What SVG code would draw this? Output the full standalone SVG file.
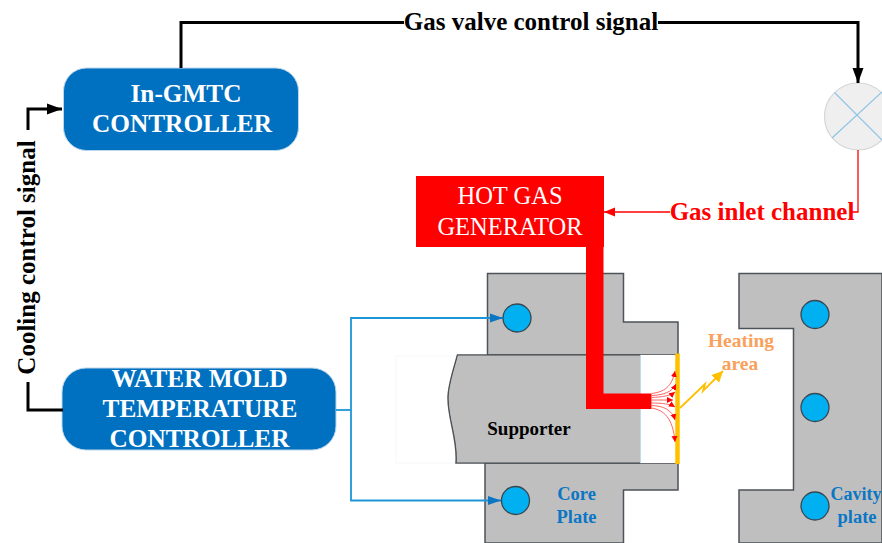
<svg xmlns="http://www.w3.org/2000/svg" width="882" height="543" viewBox="0 0 882 543">
<defs>
<marker id="ab" markerUnits="userSpaceOnUse" markerWidth="16" markerHeight="12" refX="15" refY="6" orient="auto"><path d="M0,0.500 L15,6 L0,11.500 Z" fill="#000"/></marker>
<marker id="ar" markerUnits="userSpaceOnUse" markerWidth="12" markerHeight="10" refX="11" refY="5" orient="auto"><path d="M0,0.500 L11,5 L0,9.500 Z" fill="#f00"/></marker>
<marker id="au" markerUnits="userSpaceOnUse" markerWidth="14" markerHeight="10" refX="13" refY="5" orient="auto"><path d="M0,0.500 L13,5 L0,9.500 Z" fill="#0b76c4"/></marker>
<marker id="ay" markerUnits="userSpaceOnUse" markerWidth="12" markerHeight="12" refX="11" refY="6" orient="auto"><path d="M0,0.500 L11,6 L0,11.500 Z" fill="#ffc000"/></marker>
<marker id="af" markerUnits="userSpaceOnUse" markerWidth="7" markerHeight="7" refX="6" refY="3" orient="auto"><path d="M0,0 L6,3 L0,6 Z" fill="#f00"/></marker>
</defs>
<style>
text{font-family:"Liberation Serif","Times New Roman",serif;font-weight:bold;text-anchor:middle}
.box{fill:#0070c0;stroke:#bcd6ec;stroke-width:1}
.w{fill:#fff;font-size:25.300px}
.s{fill:#bfbfbf;stroke:#4d5358;stroke-width:1.500}
.c{fill:#00b0f0;stroke:#3a4650;stroke-width:1.300}
.k{fill:none;stroke:#000;stroke-width:3}
.u{fill:none;stroke:#1c96d8;stroke-width:1.800}
.b{fill:#0b76c4;font-size:18.500px}
.h{fill:#f9a15c;font-size:19.500px}
.f{fill:none;stroke:#f66;stroke-width:1;marker-end:url(#af)}
.l{font-size:25px}
</style>
<rect width="882" height="543" fill="#fff"/>
<g id="cavity-plate">
<path class="s" d="M882,273.500 H739 V328.500 H793.500 V490 H739 V543 H882 Z"/>
<circle class="c" cx="815" cy="314.500" r="14"/>
<circle class="c" cx="815" cy="407.500" r="14"/>
<circle class="c" cx="815" cy="506" r="14"/>
<text class="b" x="856" y="500" style="font-size:18px">Cavity</text>
<text class="b" x="857" y="523">plate</text>
</g>
<g id="core-plate">
<path class="s" d="M487.500,355 V273.500 H623.500 V322 H678 V355 Z"/>
<path class="s" d="M485,463 V543 H623.500 V490 H678 V463 Z"/>
<circle class="c" cx="517" cy="318" r="14"/>
<circle class="c" cx="515.500" cy="500.500" r="14"/>
<text class="b" x="576.500" y="500">Core</text>
<text class="b" x="576.500" y="522.500">Plate</text>
</g>
<g id="supporter">
<rect x="396" y="356" width="60" height="107" fill="#fff" stroke="#f2f2f2" stroke-width="0.7"/>
<path d="M640,355 H678 V463 H640 Z" fill="#fff"/>
<path d="M640,355 V463" stroke="#7db8dc" stroke-width="1" fill="none"/>
<path class="s" d="M640,355 H457.500 C454,368 448,385 448,398 C448,420 458,440 456,463 H640"/>
<path d="M458,355.800 H640 V462.200 H457 C459,440 449,420 449,398 C449,385 455,368 458,355.800 Z" fill="#bfbfbf"/>
<text x="529" y="435" font-size="19" fill="#000">Supporter</text>
</g>
<g id="hot-gas-generator">
<path d="M586,240 H603.500 V393.500 H651.500 V409 H586 Z" fill="#f00"/>
<rect x="416" y="176" width="188" height="71" fill="#f00"/>
<text x="510" y="204" font-size="24.500" fill="#fff" style="font-weight:normal">HOT GAS</text>
<text x="510" y="235" font-size="24.500" fill="#fff" style="font-weight:normal">GENERATOR</text>
</g>
<g id="heating-area">
<path d="M677.500,353.500 V464" stroke="#ffc000" stroke-width="4.500" fill="none"/>
<path class="f" d="M651.500,393.500 C664,392 672,387 675,371"/>
<path class="f" d="M651.500,395.500 C664,395 672,392 676,384"/>
<path class="f" d="M651.500,397.500 C662,397 670,396 675,392"/>
<path class="f" d="M651.500,400 H673"/>
<path class="f" d="M651.500,403 C662,403 670,404 675,407"/>
<path class="f" d="M651.500,405.500 C664,406 672,410 675,420"/>
<path class="f" d="M651.500,408 C664,410 673,418 675,442"/>
<path d="M680,408 L705,384 L703,391 L723,371" fill="none" stroke="#ffc000" stroke-width="1.800" marker-end="url(#ay)"/>
<text class="h" x="741" y="347">Heating</text>
<text class="h" x="740" y="369.500">area</text>
</g>
<g id="valve">
<circle cx="858" cy="116.500" r="33.500" fill="#efefef" stroke="#d6d6d6" stroke-width="1.200"/>
<path d="M834.500,92.500 L882,140 M832,138 L882,92" stroke="#90c4e4" stroke-width="1.200" fill="none"/>
</g>
<g id="in-gmtc-controller">
<rect class="box" x="63.500" y="68" width="235" height="82.500" rx="23"/>
<text class="w" x="186" y="102">In-GMTC</text>
<text class="w" x="182" y="132">CONTROLLER</text>
</g>
<g id="water-mold-temperature-controller">
<rect class="box" x="62" y="368" width="274" height="82" rx="24"/>
<text class="w" x="199.500" y="387">WATER MOLD</text>
<text class="w" x="200" y="417">TEMPERATURE</text>
<text class="w" x="199.500" y="447">CONTROLLER</text>
</g>
<g id="connectors">
<path class="k" d="M181,68 V22.500 H404 M658,22.500 H858 V83" marker-end="url(#ab)"/>
<path class="k" d="M28,130 V109 H62" marker-end="url(#ab)"/>
<path class="k" d="M28,382 V410 H63"/>
<path d="M858,150 V212 H850" fill="none" stroke="#f00" stroke-width="1.300"/>
<path d="M670,212 H604" fill="none" stroke="#f00" stroke-width="1.500" marker-end="url(#ar)"/>
<path class="u" d="M336,410 H351"/>
<path class="u" d="M492,318 H351 V500.500 H490"/>
<path d="M490,318 H503" stroke="#0b76c4" stroke-width="1.800" marker-end="url(#au)"/>
<path d="M488,500.500 H501" stroke="#0b76c4" stroke-width="1.800" marker-end="url(#au)"/>
</g>
<g id="labels">
<text class="l" x="531" y="30" fill="#000">Gas valve control signal</text>
<text class="l" x="762" y="219.500" fill="#f00">Gas inlet channel</text>
<text class="l" x="0" y="0" fill="#000" transform="translate(35,257.500) rotate(-90)">Cooling control signal</text>
</g>
</svg>
